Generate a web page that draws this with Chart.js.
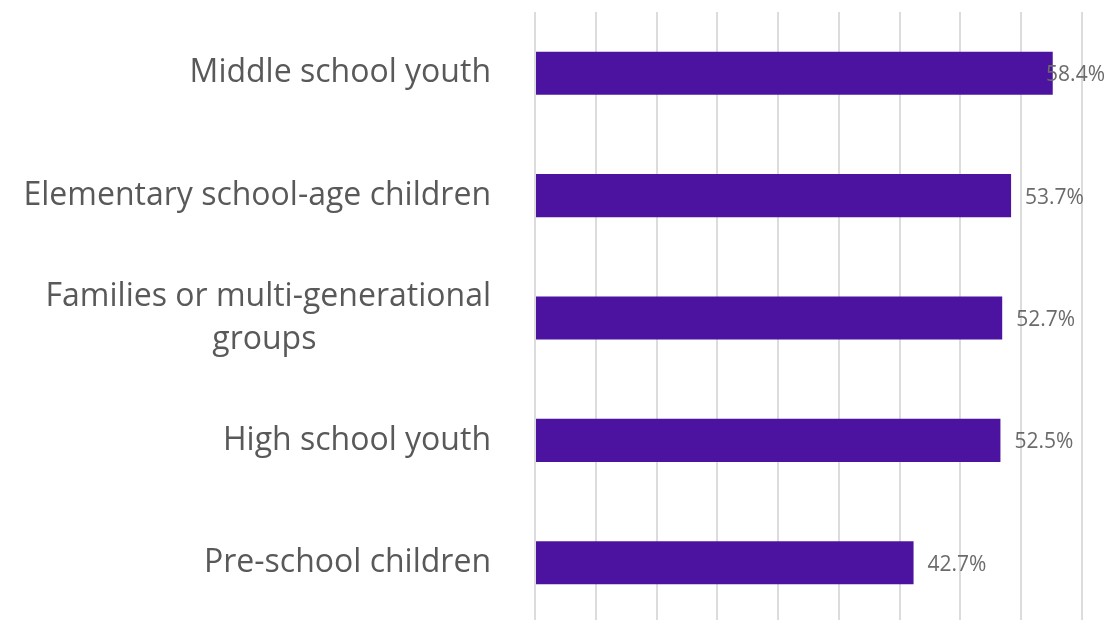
<!DOCTYPE html>
<html>
<head>
<meta charset="utf-8">
<script src="https://cdn.jsdelivr.net/npm/chart.js@4.4.1/dist/chart.umd.min.js"></script>
<style>
  html, body { margin: 0; padding: 0; background: #fff; overflow: hidden; }
  #wrap { position: relative; width: 1107px; height: 624px; }
</style>
</head>
<body>
<div id="wrap"><canvas id="chart"></canvas></div>
<script>
// Data
const categories = [
  ['Middle school youth'],
  ['Elementary school-age children'],
  ['Families or multi-generational', 'groups'],
  ['High school youth'],
  ['Pre-school children'],
];
const values = [58.4, 53.7, 52.7, 52.5, 42.7];

const AXIS_MAX = 61.7;     // right edge of the plot (%)
const GRID_STEPS = 9;      // vertical gridlines after the zero line

const BAR_COLOR = '#4b139f';
const LABEL_FONT = '32px "Open Sans"';
const VALUE_FONT = '21px "Open Sans"';

// Centre the second line of a wrapped label under the first by padding with spaces
function centredLines(lines) {
  if (lines.length < 2) return lines[0];
  const ctx = document.createElement('canvas').getContext('2d');
  ctx.font = LABEL_FONT;
  const w0 = ctx.measureText(lines[0]).width;
  const sp = ctx.measureText(' ').width;
  return lines.map(l => {
    const pad = Math.round((w0 - ctx.measureText(l).width) / 2 / sp);
    return l + ' '.repeat(Math.max(0, pad));
  });
}

// value labels at the bar ends, pulled back in when they would leave the canvas
const valueLabels = {
  id: 'valueLabels',
  afterDatasetsDraw(chart) {
    const { ctx } = chart;
    const meta = chart.getDatasetMeta(0);
    ctx.save();
    ctx.font = VALUE_FONT;
    ctx.fillStyle = '#6b6b6b';
    ctx.textBaseline = 'middle';
    ctx.textAlign = 'left';
    meta.data.forEach((bar, i) => {
      const txt = values[i].toFixed(1) + '%';
      const w = ctx.measureText(txt).width;
      const x = Math.min(bar.x + 14, chart.width - 2 - w);
      ctx.fillText(txt, x, bar.y + 2);
    });
    ctx.restore();
  },
};

document.fonts.load(LABEL_FONT).then(() => {
  const labels = categories.map(centredLines);

  new Chart(document.getElementById('chart'), {
    type: 'bar',
    data: {
      labels,
      datasets: [{
        data: values,
        backgroundColor: BAR_COLOR,
        borderWidth: 0,
        categoryPercentage: 1,
        barPercentage: 0.352,
      }],
    },
    options: {
      indexAxis: 'y',
      responsive: true,
      maintainAspectRatio: false,
      animation: false,
      layout: { padding: { top: 12, right: 25, bottom: 0, left: 0 } },
      plugins: { legend: { display: false }, tooltip: { enabled: false } },
      scales: {
        x: {
          min: 0,
          max: AXIS_MAX,
          afterBuildTicks(scale) {
            const t = [];
            for (let i = 0; i <= GRID_STEPS; i++) t.push({ value: AXIS_MAX * i / GRID_STEPS });
            scale.ticks = t;
          },
          afterFit(scale) {
            scale.height = 0;
            scale.paddingLeft = 0;
            scale.paddingRight = 0;
          },
          ticks: { display: false },
          border: { display: false },
          grid: { color: '#dcdcdc', lineWidth: 2, drawTicks: false },
        },
        y: {
          afterFit(scale) {
            scale.width = 535;
            scale.paddingTop = 0;
            scale.paddingBottom = 0;
          },
          ticks: {
            color: '#595959',
            padding: 36,
            font: { family: 'Open Sans', size: 32, lineHeight: 1.35 },
          },
          border: { display: false },
          grid: { display: false },
        },
      },
    },
    plugins: [valueLabels],
  });
});
</script>
</body>
</html>
